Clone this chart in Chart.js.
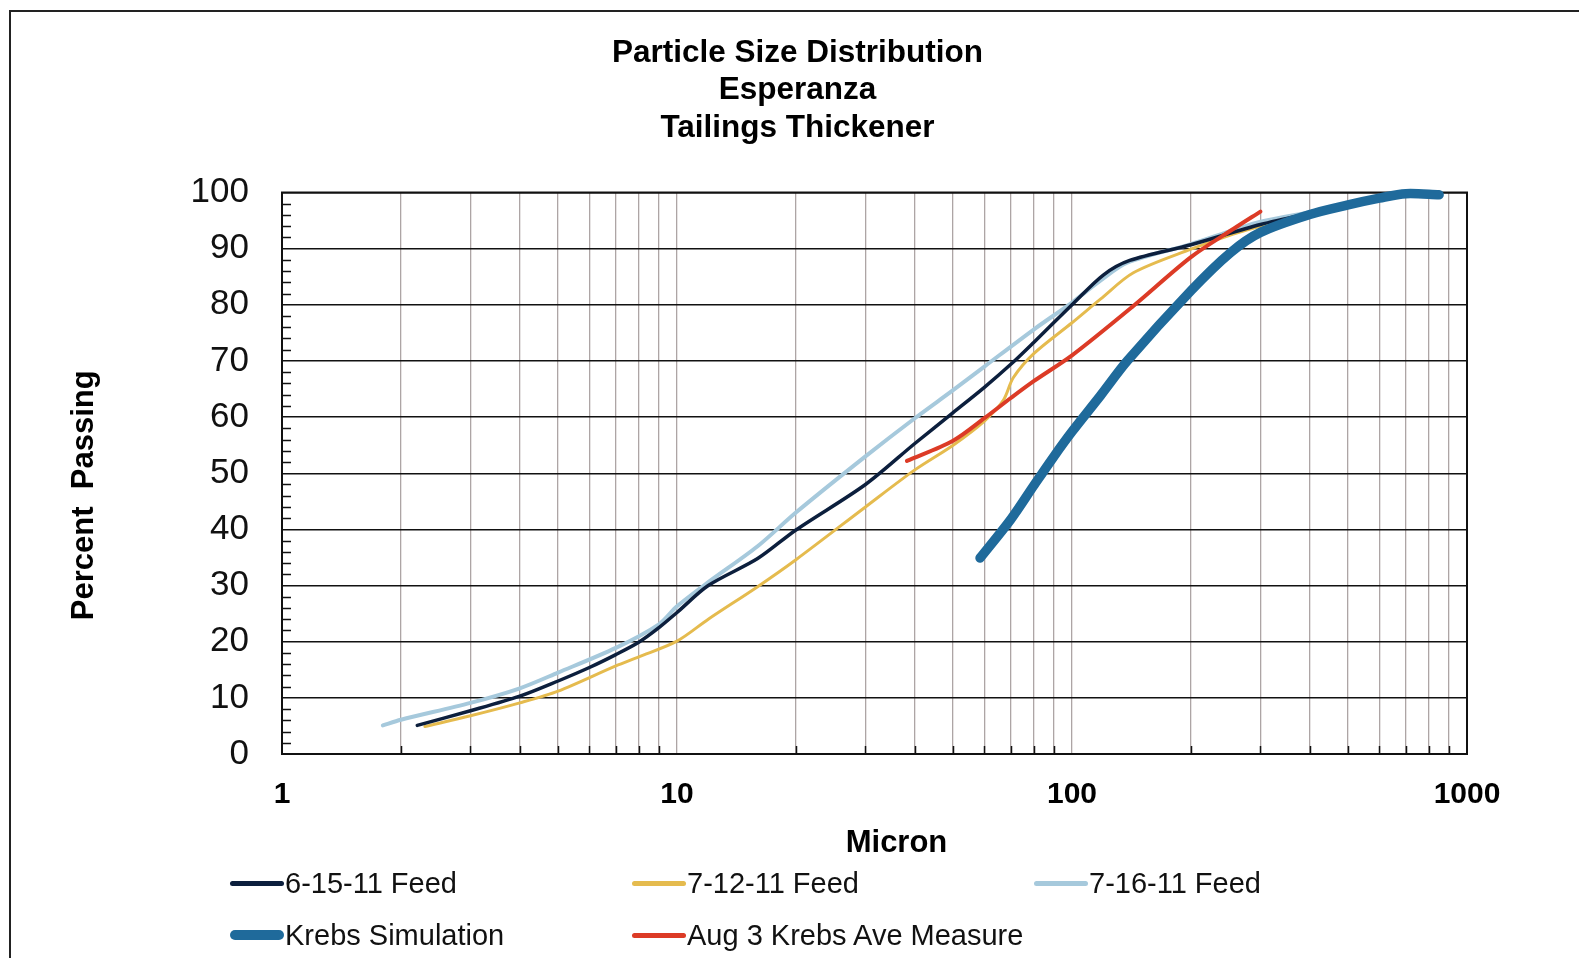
<!DOCTYPE html>
<html>
<head>
<meta charset="utf-8">
<title>Particle Size Distribution - Esperanza Tailings Thickener</title>
<script src="https://cdn.jsdelivr.net/npm/chart.js@4.4.1/dist/chart.umd.min.js"></script>
<style>
    html, body { margin: 0; padding: 0; background: #fff; }
    #wrap { position: relative; width: 1579px; height: 958px; overflow: hidden; font-family: "Liberation Sans", Arial, sans-serif; }
    #frame { position: absolute; left: 9px; top: 10px; width: 1600px; height: 1000px; border-left: 2px solid #222; border-top: 2px solid #222; pointer-events: none; }
    .legend-item { position: absolute; display: flex; align-items: center; height: 40px; font-size: 29px; color: #111; white-space: nowrap; }
    .legend-item .swatch { width: 54px; border-radius: 5px; margin-right: 1px; }
</style>
</head>
<body>
<div id="wrap">
    <canvas id="psd" width="1579" height="958"></canvas>
    <div id="frame"></div>
    <div id="legend"></div>
</div>
<script>
// Values (micron vs. percent passing)
const feed0615Micron  = [2.2, 3, 4, 5, 6, 7, 8, 9, 10, 12, 16, 20, 30, 40, 50, 60, 70, 80, 100, 120, 140, 200, 300, 400, 500, 700, 850];
const feed0615Passing = [5.1, 7.7, 10.3, 13.0, 15.4, 17.7, 19.9, 22.5, 25.2, 30.0, 34.8, 39.9, 48.0, 55.3, 60.8, 65.3, 69.4, 73.3, 80.0, 85.3, 87.9, 90.7, 94.3, 96.3, 97.7, 99.4, 100];

const feed0712Micron  = [2.3, 3, 4, 5, 7, 8, 10, 12, 16, 20, 30, 40, 50, 60, 67, 71, 80, 100, 118, 143, 200, 256, 300, 400, 500, 700];
const feed0712Passing = [4.9, 6.8, 9.1, 11.2, 15.7, 17.3, 20.1, 24.0, 29.8, 34.6, 44.0, 50.6, 55.0, 59.3, 63.0, 67.0, 71.3, 76.8, 81.0, 85.7, 89.9, 92.6, 94.0, 96.0, 97.5, 99.8];

const feed0716Micron  = [1.8, 2, 3, 4, 5, 7, 9, 10, 12, 16, 20, 30, 40, 50, 60, 80, 100, 118, 138, 200, 256, 300, 400, 500, 600, 800];
const feed0716Passing = [5.1, 6.1, 9.1, 11.7, 14.5, 18.9, 23.1, 26.3, 30.6, 37.0, 43.0, 53.0, 59.8, 64.8, 69.0, 75.6, 80.4, 84.3, 87.5, 90.8, 93.3, 94.8, 96.5, 97.8, 98.8, 100];

const krebsSimMicron  = [58.5, 70, 80, 90, 100, 118, 138, 200, 252, 300, 400, 500, 600, 700, 850];
const krebsSimPassing = [34.9, 41.8, 47.8, 53.0, 57.4, 63.8, 70.0, 82.5, 89.3, 92.9, 96.1, 97.8, 99.0, 99.8, 99.6];

const aug3Micron  = [38.2, 50, 60, 70, 80, 100, 143, 200, 256, 300];
const aug3Passing = [52.2, 55.8, 59.8, 63.4, 66.4, 71.0, 79.8, 88.5, 93.5, 96.6];

const xTickLabels = [1, 10, 100, 1000];
const yTickLabels = [0, 10, 20, 30, 40, 50, 60, 70, 80, 90, 100];

// Series definitions (legend order)
const series = [
    { label: '6-15-11 Feed', micron: feed0615Micron, passing: feed0615Passing, color: '#0c1f3d', width: 3.5, swatch: 5, order: 2 },
    { label: '7-12-11 Feed', micron: feed0712Micron, passing: feed0712Passing, color: '#e5bb4e', width: 3, swatch: 5, order: 3 },
    { label: '7-16-11 Feed', micron: feed0716Micron, passing: feed0716Passing, color: '#a6c9dc', width: 4, swatch: 5, order: 4 },
    { label: 'Krebs Simulation', micron: krebsSimMicron, passing: krebsSimPassing, color: '#1f6a9b', width: 9.5, swatch: 10, order: 1 },
    { label: 'Aug 3 Krebs Ave Measure', micron: aug3Micron, passing: aug3Passing, color: '#dc3b26', width: 4, swatch: 5, order: 0 }
];

// Log grid: 1..9 in every decade from 1 to 1000
const xGridValues = [];
for (let d = 1; d < 1000; d *= 10) {
    for (let m = 1; m < 10; m++) xGridValues.push(m * d);
}
xGridValues.push(1000);

const FONT = '"Liberation Sans", Arial, sans-serif';

// Inward minor ticks, plot frame and axis titles
const plotDecor = {
    id: 'plotDecor',
    beforeDatasetsDraw(chart) {
        const { ctx, chartArea: a, scales: { x, y } } = chart;
        ctx.save();
        ctx.strokeStyle = '#111';
        ctx.lineWidth = 1.5;
        ctx.beginPath();
        for (let v = 2; v < 100; v += 2) {
            if (v % 10 === 0) continue;
            const py = Math.round(y.getPixelForValue(v)) + 0.5;
            ctx.moveTo(a.left, py);
            ctx.lineTo(a.left + 9, py);
        }
        xGridValues.forEach(v => {
            if (xTickLabels.includes(v)) return;
            const px = Math.round(x.getPixelForValue(v)) + 0.5;
            ctx.moveTo(px, a.bottom);
            ctx.lineTo(px, a.bottom - 8);
        });
        ctx.stroke();
        ctx.lineWidth = 2;
        ctx.strokeRect(a.left, a.top, a.right - a.left, a.bottom - a.top);
        ctx.restore();
    },
    afterDraw(chart) {
        const { ctx, chartArea: a } = chart;
        ctx.save();
        ctx.fillStyle = '#000';
        ctx.font = 'bold 31px ' + FONT;
        ctx.textAlign = 'center';
        ctx.textBaseline = 'middle';
        ctx.fillText('Micron', (a.left + a.right) / 2 + 22, 843);
        ctx.translate(84, (a.top + a.bottom) / 2 + 22);
        ctx.rotate(-Math.PI / 2);
        ctx.fillText('Percent  Passing', 0, 0);
        ctx.restore();
    }
};

const chart = new Chart(document.getElementById('psd'), {
    type: 'line',
    data: {
        datasets: series.map(s => ({
            label: s.label,
            data: s.micron.map((m, i) => ({ x: m, y: s.passing[i] })),
            borderColor: s.color,
            backgroundColor: s.color,
            borderWidth: s.width,
            borderCapStyle: 'round',
            borderJoinStyle: 'round',
            pointRadius: 0,
            tension: 0.3,
            order: s.order,
            clip: false
        }))
    },
    options: {
        responsive: false,
        animation: false,
        layout: { padding: { left: 16, right: 0, top: 0, bottom: 144 } },
        plugins: {
            legend: { display: false },
            tooltip: { enabled: false },
            title: {
                display: true,
                text: ['Particle Size Distribution', 'Esperanza', 'Tailings Thickener'],
                color: '#000',
                font: { family: FONT, size: 31.5, weight: 'bold', lineHeight: 1.18 },
                padding: { top: 35, bottom: 46 }
            }
        },
        scales: {
            x: {
                type: 'logarithmic',
                min: 1,
                max: 1000,
                afterBuildTicks(scale) {
                    scale.ticks = xGridValues.map(value => ({ value }));
                },
                afterFit(scale) { scale.height = 60; },
                grid: { color: '#ada5a5', lineWidth: 1.3, drawTicks: false },
                border: { display: true, color: '#111', width: 2 },
                ticks: {
                    autoSkip: false,
                    maxRotation: 0,
                    padding: 23,
                    color: '#000',
                    font: { family: FONT, size: 30, weight: 'bold', lineHeight: 1.2 },
                    callback: v => xTickLabels.includes(v) ? String(v) : ''
                }
            },
            y: {
                min: 0,
                max: 100,
                afterBuildTicks(scale) {
                    scale.ticks = yTickLabels.map(value => ({ value }));
                },
                afterFit(scale) { scale.width = 266; },
                grid: { color: '#111', lineWidth: 1.5, drawTicks: false },
                border: { display: true, color: '#111', width: 2 },
                ticks: {
                    padding: 33,
                    color: '#111',
                    font: { family: FONT, size: 35, lineHeight: 1.2 }
                }
            },
            y2: {
                position: 'right',
                display: true,
                afterFit(scale) { scale.width = 112; },
                grid: { display: false },
                border: { display: false },
                ticks: { display: false }
            }
        }
    },
    plugins: [plotDecor]
});

// HTML legend in the reference's three-column layout
const legendCols = [230, 632, 1034];
const legendRows = [863, 915];
const legendEl = document.getElementById('legend');
series.forEach((s, i) => {
    const item = document.createElement('div');
    item.className = 'legend-item';
    item.style.left = legendCols[i % 3] + 'px';
    item.style.top = legendRows[Math.floor(i / 3)] + 'px';
    const sw = document.createElement('span');
    sw.className = 'swatch';
    sw.style.height = s.swatch + 'px';
    sw.style.background = s.color;
    item.appendChild(sw);
    item.appendChild(document.createTextNode(s.label));
    legendEl.appendChild(item);
});
</script>
</body>
</html>
